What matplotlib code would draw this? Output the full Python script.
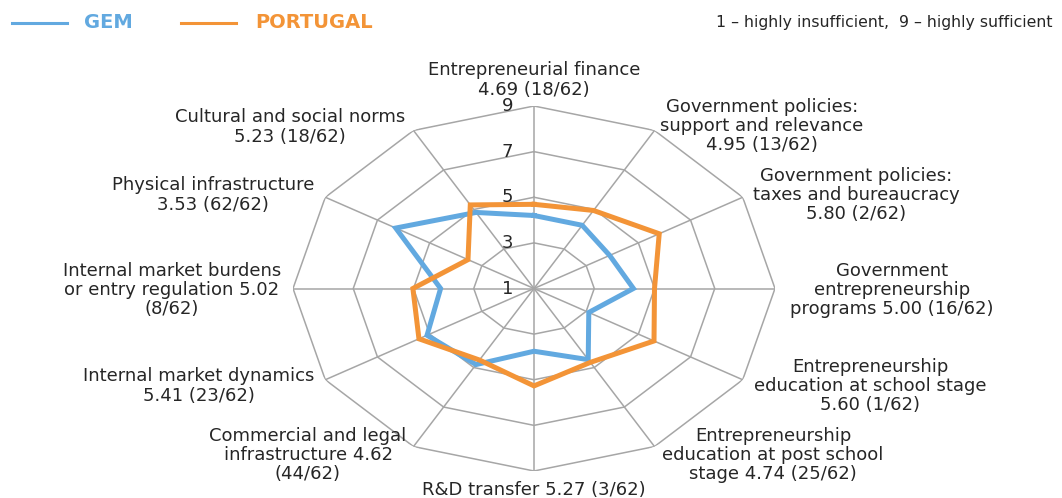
import numpy as np
import matplotlib.pyplot as plt

# categories clockwise from the top
CATEGORIES = [
    "Entrepreneurial finance\n4.69 (18/62)",
    "Government policies:\nsupport and relevance\n4.95 (13/62)",
    "Government policies:\ntaxes and bureaucracy\n5.80 (2/62)",
    "Government\nentrepreneurship\nprograms 5.00 (16/62)",
    "Entrepreneurship\neducation at school stage\n5.60 (1/62)",
    "Entrepreneurship\neducation at post school\nstage 4.74 (25/62)",
    "R&D transfer 5.27 (3/62)",
    "Commercial and legal\ninfrastructure 4.62\n(44/62)",
    "Internal market dynamics\n5.41 (23/62)",
    "Internal market burdens\nor entry regulation 5.02\n(8/62)",
    "Physical infrastructure\n3.53 (62/62)",
    "Cultural and social norms\n5.23 (18/62)",
]
PORTUGAL = [4.69, 4.95, 5.80, 5.00, 5.60, 4.74, 5.27, 4.62, 5.41, 5.02, 3.53, 5.23]
GEM = [4.2, 4.2, 3.9, 4.3, 3.1, 4.6, 3.75, 4.85, 5.1, 4.1, 6.3, 4.85]
RINGS = [3, 5, 7, 9]
TICKS = [1, 3, 5, 7, 9]

# label anchor points in figure pixels (x, y from top)
LABEL_POS = [(534, 80), (762, 126), (856, 195), (892, 290), (870, 386), (773, 455),
             (534, 490), (308, 455), (199, 386), (172, 290), (213, 195), (290, 127)]

W, H = 1062, 498
BLUE = "#62A9E0"
ORANGE = "#F39437"
GRID = "#A6A6A6"
TXT = "#262626"

fig = plt.figure(figsize=(W / 100, H / 100), dpi=100)
ax = fig.add_axes([293 / W, (H - 471) / H, 482 / W, 365 / H], projection="polar")
ax.set_aspect("auto")
ax.set_theta_zero_location("N")
ax.set_theta_direction(-1)
ax.set_ylim(1, 9)
ax.grid(False)
ax.spines["polar"].set_visible(False)
ax.set_xticks([])
ax.set_yticks([])
ax.patch.set_alpha(0)

n = len(CATEGORIES)
theta = np.linspace(0, 2 * np.pi, n, endpoint=False)
closed = np.append(theta, theta[0])

# polygon grid and spokes
for r in RINGS:
    ax.plot(closed, [r] * (n + 1), color=GRID, lw=1.1, zorder=1)
for t in theta:
    ax.plot([t, t], [1, 9], color=GRID, lw=1.1, zorder=1)

ax.plot(closed, GEM + GEM[:1], color=BLUE, lw=3.6, zorder=3,
        solid_joinstyle="miter")
ax.plot(closed, PORTUGAL + PORTUGAL[:1], color=ORANGE, lw=3.6, zorder=4,
        solid_joinstyle="miter")

for v in TICKS:
    ax.annotate(str(v), xy=(0, v), xytext=(-15, 0), textcoords="offset points",
                ha="right", va="center", fontsize=13, color=TXT)

for label, (x, y) in zip(CATEGORIES, LABEL_POS):
    fig.text(x / W, 1 - y / H, label, ha="center", va="center",
             multialignment="center", fontsize=13, color=TXT, linespacing=1.08)

# legend row
fig.add_artist(plt.Line2D([12 / W, 67 / W], [1 - 22.7 / H] * 2, color=BLUE, lw=2.2))
fig.text(84 / W, 1 - 22.7 / H, "GEM", color=BLUE, fontsize=14, fontweight="bold",
         ha="left", va="center")
fig.add_artist(plt.Line2D([181 / W, 236 / W], [1 - 22.7 / H] * 2, color=ORANGE, lw=2.2))
fig.text(255 / W, 1 - 22.7 / H, "PORTUGAL", color=ORANGE, fontsize=14,
         fontweight="bold", ha="left", va="center")
fig.text(1053 / W, 1 - 22.7 / H, "1 \u2013 highly insufficient,  9 \u2013 highly sufficient",
         color=TXT, fontsize=11.3, ha="right", va="center")

fig.savefig("out.png", dpi=100, facecolor="white")
